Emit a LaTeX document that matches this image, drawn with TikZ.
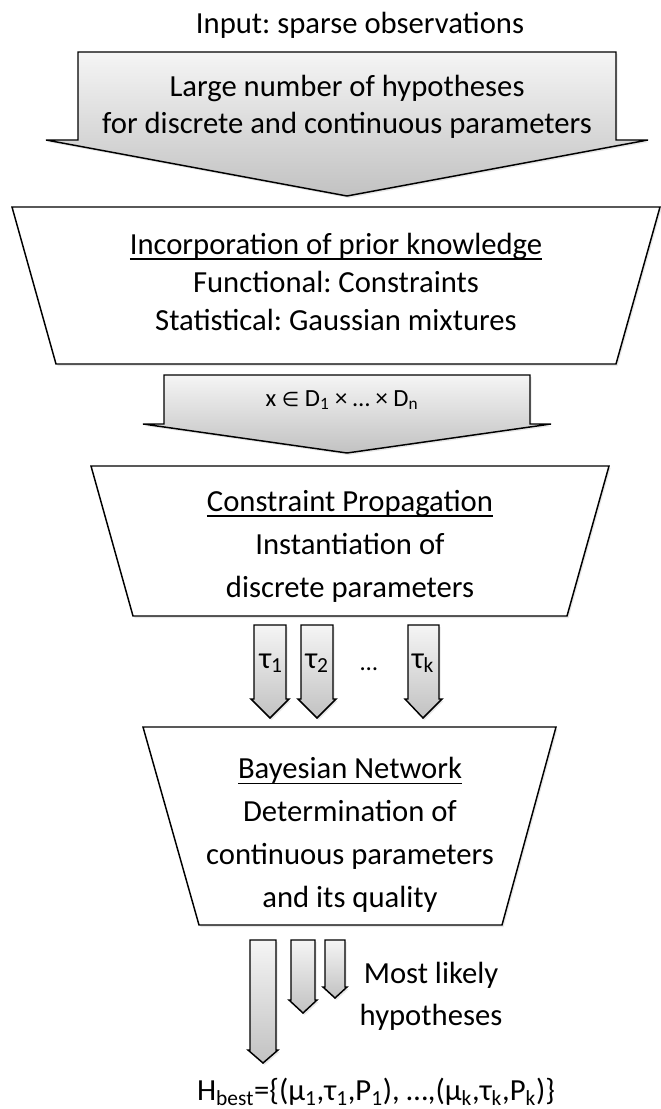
\documentclass[tikz,border=0pt]{standalone}
\usepackage{fontspec}
\setmainfont{Carlito}
\newfontfamily\symfont{DejaVu Sans}
\usepackage{tikz}
\usetikzlibrary{shadows}
\usetikzlibrary{positioning}
\frenchspacing
\tikzstyle{stage} = [
    draw=black,
    line width=1.1pt,
    fill=white,
    drop shadow={opacity=0.18, shadow xshift=1.2pt, shadow yshift=-1.5pt}
]
\tikzstyle{flow}  = [
    draw=black,
    line width=1.1pt,
    top color=gray!8,
    bottom color=gray!48,
    drop shadow={opacity=0.18, shadow xshift=1.2pt, shadow yshift=-1.5pt}
]
\tikzstyle{txt}   = [inner sep=0pt, align=center, font=\fontsize{23}{32.25}\selectfont]
\tikzstyle{small} = [inner sep=0pt, align=center, font=\fontsize{18.5}{22}\selectfont]
\newcommand{\sub}[1]{\textsubscript{#1}}
\newcommand{\elem}{{\symfont\fontsize{15}{18}\selectfont\char"2208}}
\newcommand{\heading}[1]{\setbox0\hbox{#1}\leavevmode\rlap{\rule[-4.2pt]{\wd0}{1.3pt}}\box0}

\begin{document}
\begin{tikzpicture}[x=0.75pt, y=-0.75pt]
\useasboundingbox (0,0) rectangle (660,1109);

% input and first block arrow
\node[txt] (input) at (360,25) {Input: sparse observations};
\draw[flow] (78,52) -- (616,52) -- (616,140) -- (648,140) -- (347,196)
            -- (46,140) -- (78,140) -- cycle;
\node[txt, font=\fontsize{23}{27.75}\selectfont] (hyps) at (347,107)
    {Large number of hypotheses\\for discrete and continuous parameters};

% prior knowledge
\draw[stage] (12,207) -- (660,207) -- (616,364) -- (56,364) -- cycle;
\node[txt, font=\fontsize{23}{28.5}\selectfont] (prior) at (336,282)
    {\heading{Incorporation of prior knowledge}\\Functional: Constraints\\Statistical: Gaussian mixtures};

\draw[flow] (164,375) -- (530,375) -- (530,424) -- (551,424) -- (347,453)
            -- (143,424) -- (164,424) -- cycle;
\node[small] (domain) at (342,400)
    {x \elem{} D\sub{1} × … × D\sub{n}};

% constraint propagation
\draw[stage] (91,466) -- (609,466) -- (567,616) -- (133,616) -- cycle;
\node[txt] (propag) at (350,546)
    {\heading{Constraint Propagation}\\Instantiation of\\discrete parameters};

\draw[flow] (254,625) -- (286,625) -- (286,699) -- (289,699) -- (270,718)
            -- (251,699) -- (254,699) -- cycle;
\draw[flow] (301,625) -- (333,625) -- (333,699) -- (336,699) -- (317,718)
            -- (298,699) -- (301,699) -- cycle;
\draw[flow] (408,625) -- (439,625) -- (439,699) -- (442,699) -- (423,718)
            -- (405,699) -- (408,699) -- cycle;
\node[txt, anchor=base] (tau1) at (271,668) {τ\sub{1}};
\node[txt, anchor=base] (tau2) at (317,668) {τ\sub{2}};
\node[small, anchor=base] (dots) at (369,670) {…};
\node[txt, anchor=base] (tauk) at (423,668) {τ\sub{k}};

% bayesian network
\draw[stage] (143,727) -- (556,727) -- (502,925) -- (199,925) -- cycle;
\node[txt] (bayes) at (350,835)
    {\heading{Bayesian Network}\\Determination of\\continuous parameters\\and its quality};

\draw[flow] (250,940) -- (276,940) -- (276,1050) -- (278,1050) -- (263,1063)
            -- (248,1050) -- (250,1050) -- cycle;
\draw[flow] (291,940) -- (315,940) -- (315,1000) -- (317,1000) -- (303,1013)
            -- (289,1000) -- (291,1000) -- cycle;
\draw[flow] (325,940) -- (345,940) -- (345,987) -- (347,987) -- (335,998)
            -- (323,987) -- (325,987) -- cycle;
\node[txt, font=\fontsize{23}{31.5}\selectfont] (likely) at (431,996)
    {Most likely\\hypotheses};

\node[txt] (best) at (376,1092)
    {H\sub{best}=\{(μ\sub{1},τ\sub{1},P\sub{1}), …,(μ\sub{k},τ\sub{k},P\sub{k})\}};
\end{tikzpicture}
\end{document}
